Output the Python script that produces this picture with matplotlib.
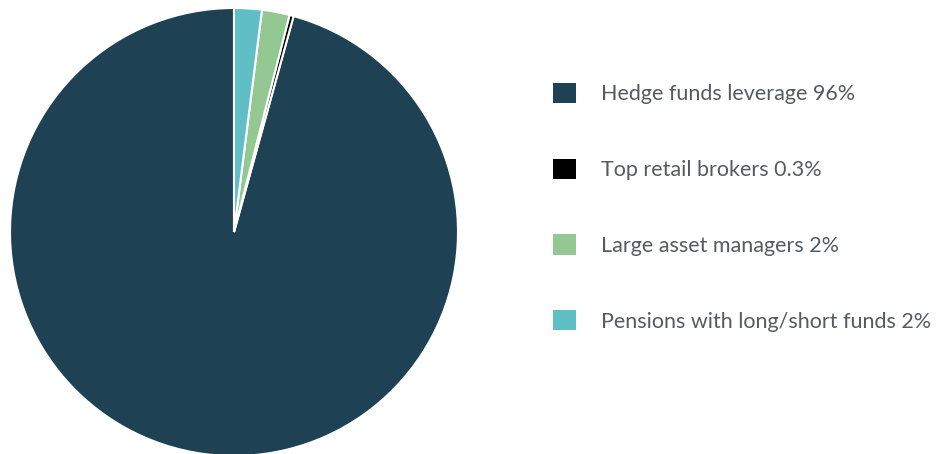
import matplotlib.pyplot as plt

plt.rcParams['font.family'] = ['Lato', 'DejaVu Sans']

# Data
labels = ["Hedge funds leverage 96%", "Top retail brokers 0.3%",
          "Large asset managers 2%", "Pensions with long/short funds 2%"]
shares = [96, 0.3, 2, 2]
colors = ["#1e4154", "#000000", "#94c893", "#5fbfc4"]

W, H = 940, 454
fig = plt.figure(figsize=(W / 100, H / 100), dpi=100)

# pie axes: center (234, 232) px, radius 224 px
cx, cy, r = 234, 232, 224
ax = fig.add_axes([(cx - r) / W, (H - cy - r) / H, 2 * r / W, 2 * r / H])
wedges, _ = ax.pie(shares, colors=colors, startangle=90, counterclock=True,
                   radius=1, wedgeprops=dict(edgecolor="white", linewidth=1.5))
ax.set_xlim(-1, 1)
ax.set_ylim(-1, 1)
ax.set_aspect("equal")
ax.axis("off")

leg = fig.legend(wedges, labels, loc="upper left",
                 bbox_to_anchor=(553 / W, 1 - 83 / H),
                 frameon=False, fontsize=15.5, labelcolor="#555b63",
                 handlelength=1.07, handleheight=1.07, handletextpad=1.16,
                 labelspacing=2.52, borderpad=0, borderaxespad=0)
for h in leg.legend_handles:
    h.set_edgecolor("none")

fig.savefig("out.png", dpi=100)
